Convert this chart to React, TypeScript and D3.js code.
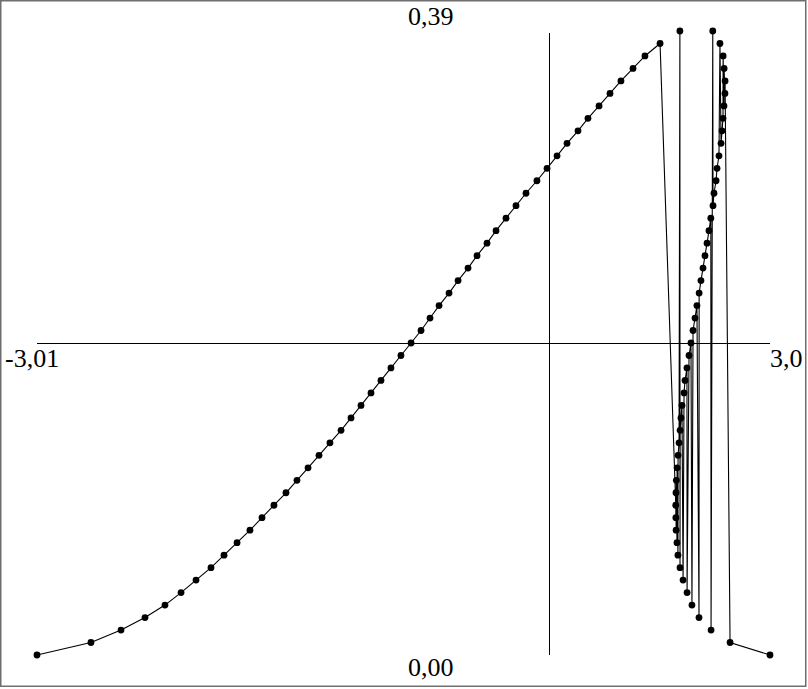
import React from "react";
import { scaleLinear, line } from "d3";

// points in plotted order (sorted by x)
const xValues = [
  -3.01, -2.567, -2.32, -2.123, -1.959, -1.827, -1.704, -1.581, -1.474, -1.367,
  -1.261, -1.162, -1.064, -0.965, -0.875, -0.784, -0.694, -0.604, -0.513, -0.431,
  -0.349, -0.267, -0.185, -0.103, -0.021, 0.062, 0.144, 0.218, 0.292, 0.374,
  0.448, 0.53, 0.604, 0.686, 0.76, 0.842, 0.924, 1.006, 1.096, 1.179,
  1.261, 1.343, 1.433, 1.515, 1.606, 1.696, 1.786, 1.885, 1.983, 2.107,
  2.236, 2.237, 2.238, 2.239, 2.241, 2.246, 2.247, 2.254, 2.255, 2.263,
  2.27, 2.271, 2.272, 2.279, 2.287, 2.296, 2.304, 2.312, 2.328, 2.329,
  2.345, 2.361, 2.369, 2.378, 2.394, 2.41, 2.427, 2.428, 2.443, 2.46,
  2.476, 2.493, 2.509, 2.524, 2.526, 2.54, 2.542, 2.55, 2.567, 2.575,
  2.591, 2.599, 2.608, 2.616, 2.624, 2.625, 2.632, 2.633, 2.64, 2.641,
  2.682, 3.01,
];
const yValues = [
  0, 0.0078, 0.0156, 0.0234, 0.0312, 0.039, 0.0468, 0.0546, 0.0624, 0.0702,
  0.078, 0.0858, 0.0936, 0.1014, 0.1092, 0.117, 0.1248, 0.1326, 0.1404, 0.1482,
  0.156, 0.1638, 0.1716, 0.1794, 0.1872, 0.195, 0.2028, 0.2106, 0.2184, 0.2262,
  0.234, 0.2418, 0.2496, 0.2574, 0.2652, 0.273, 0.2808, 0.2886, 0.2964, 0.3042,
  0.312, 0.3198, 0.3276, 0.3354, 0.3432, 0.351, 0.3588, 0.3666, 0.3744, 0.3822,
  0.0936, 0.0858, 0.1014, 0.078, 0.1092, 0.0702, 0.117, 0.0624, 0.1248, 0.1326,
  0.39, 0.0546, 0.1404, 0.1482, 0.156, 0.0468, 0.1638, 0.1716, 0.1794, 0.039,
  0.1872, 0.195, 0.0312, 0.2028, 0.2106, 0.2184, 0.0234, 0.2262, 0.234, 0.2418,
  0.2496, 0.2574, 0.2652, 0.273, 0.0156, 0.39, 0.2808, 0.2886, 0.2964, 0.3042,
  0.312, 0.3822, 0.3198, 0.3276, 0.3354, 0.3744, 0.3432, 0.3666, 0.351, 0.3588,
  0.0078, 0,
];

const xDomain = [-3.01, 3.01];
const yDomain = [0, 0.39];
const crossX = 1.203; // vertical reference line
const crossY = 0.195; // horizontal reference line
// the right label is cut by the frame in the original, only "3,0" shows
const labels = { yMax: "0,39", yMin: "0,00", xMin: "-3,01", xMax: "3,0" };

const W = 808;
const H = 689;

export default function App() {
  const x = scaleLinear().domain(xDomain).range([37, 770]);
  const y = scaleLinear().domain(yDomain).range([655, 31]);
  const pts = xValues.map((v, i) => [v, yValues[i]] as [number, number]);
  const path = line<[number, number]>()
    .x((d) => x(d[0]))
    .y((d) => y(d[1]))(pts);

  const font = "'Liberation Serif', 'Times New Roman', serif";

  return (
    <svg
      width={W}
      height={H}
      style={{ position: "absolute", left: 0, top: 0, background: "#fff" }}
    >
      <g shapeRendering="crispEdges" stroke="#000">
        <line x1={x(xDomain[0])} x2={x(xDomain[1])} y1={y(crossY)} y2={y(crossY)} />
        <line x1={x(crossX)} x2={x(crossX)} y1={y(0)} y2={y(0.389)} />
      </g>
      <path d={path ?? ""} fill="none" stroke="#000" strokeWidth={1.1} />
      {pts.map((d, i) => (
        <circle key={i} cx={x(d[0])} cy={y(d[1])} r={3.4} fill="#000" />
      ))}
      <g fontFamily={font} fontSize={26} fill="#000">
        <text x={408} y={25}>{labels.yMax}</text>
        <text x={408} y={676}>{labels.yMin}</text>
        <text x={5} y={367}>{labels.xMin}</text>
        <text x={770} y={367}>{labels.xMax}</text>
      </g>
      <rect x={0.75} y={0.75} width={805} height={685.5} fill="none" stroke="#6e6e6e" strokeWidth={1.5} />
    </svg>
  );
}
